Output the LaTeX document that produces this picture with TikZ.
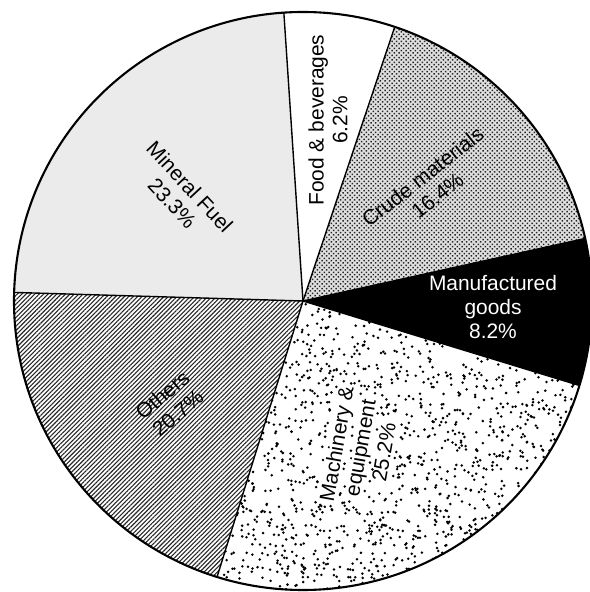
\documentclass[tikz,border=0pt]{standalone}
\usepackage{fontspec}
\setmainfont{Liberation Sans}
\usetikzlibrary{patterns.meta}
\begin{document}
\begin{tikzpicture}[x=1bp,y=1bp,
  lbl/.style={font=\fontsize{21}{24}\selectfont, align=center, inner sep=0pt},
  radial/.style={line width=1.4bp, line cap=round},
  rim/.style={line width=2.1bp}]
\useasboundingbox (0,0) rectangle (590,592);
\fill[white] (0,0) rectangle (590,592);
\coordinate (O) at (303,291);
\def\R{289}
% Food & beverages (white)
\fill[white] (O) -- ++(71.5:\R) arc[start angle=71.5, end angle=93.8, radius=\R] -- cycle;
% Crude materials (dot screen)
\fill[black!12] (O) -- ++(12.5:\R) arc[start angle=12.5, end angle=71.5, radius=\R] -- cycle;
\fill[pattern={Dots[distance=3.3bp, radius=1.05bp, angle=45]}, pattern color=black!85]
  (O) -- ++(12.5:\R) arc[start angle=12.5, end angle=71.5, radius=\R] -- cycle;
% Manufactured goods (black)
\fill[black] (O) -- ++(-17:\R) arc[start angle=-17, end angle=12.5, radius=\R] -- cycle;
% Machinery & equipment (random stipple, kept clear of the label's letters)
\fill[white] (O) -- ++(-107.3:\R) arc[start angle=-107.3, end angle=-17, radius=\R] -- cycle;
\begin{scope}
  \clip (O) -- ++(-107.3:\R) arc[start angle=-107.3, end angle=-17, radius=\R] -- cycle;
  \pgfmathsetseed{7}
  \foreach \i in {1,...,1150}{
    \pgfmathsetmacro\aa{-107.3+90.3*rnd}
    \pgfmathsetmacro\rr{\R*sqrt(rnd)}
    \pgfmathsetmacro\dx{\rr*cos(\aa)+303-360}
    \pgfmathsetmacro\dy{\rr*sin(\aa)+291-144}
    \pgfmathsetmacro\uu{\dx*cos(80)+\dy*sin(80)}
    \pgfmathsetmacro\vv{-\dx*sin(80)+\dy*cos(80)}
    \pgfmathsetmacro\skipit{(\vv>13)*(\vv<32)*(abs(\uu)<61)+(\vv>-11)*(\vv<8)*(abs(\uu)<52)+(\vv>-35)*(\vv<-16)*(abs(\uu)<33)}
    \ifdim\skipit pt<0.5pt
      \fill (O) ++(\aa:\rr) circle[radius=1.4];
    \fi
  }
\end{scope}
% Others (hatching)
\fill[white] (O) -- ++(178.3:\R) arc[start angle=178.3, end angle=252.7, radius=\R] -- cycle;
\fill[pattern={Lines[angle=45, distance=3.1bp, line width=1.1bp]}, pattern color=black!85]
  (O) -- ++(178.3:\R) arc[start angle=178.3, end angle=252.7, radius=\R] -- cycle;
% Mineral Fuel (light screen)
\fill[black!8] (O) -- ++(93.8:\R) arc[start angle=93.8, end angle=178.3, radius=\R] -- cycle;
% boundaries
\draw[radial] (O) -- ++(93.8:\R);
\draw[radial] (O) -- ++(71.5:\R);
\draw[radial] (O) -- ++(12.5:\R);
\draw[radial] (O) -- ++(-17:\R);
\draw[radial] (O) -- ++(-107.3:\R);
\draw[radial] (O) -- ++(178.3:\R);
\draw[rim] (O) circle[radius=\R];
% labels
\node[lbl, rotate=-47] (mineral) at (181,397) {Mineral Fuel\\23.3\%};
\node[lbl, rotate=90] (food) at (328,472) {Food \& beverages\\6.2\%};
\node[lbl, rotate=38] (crude) at (430,406) {Crude materials\\16.4\%};
\node[lbl, text=white] (manuf) at (493,285) {Manufactured\\goods\\8.2\%};
\node[lbl, rotate=80] (mach) at (360,144) {Machinery \&\\equipment\\25.2\%};
\node[lbl, rotate=40] (others) at (170,188) {Others\\20.7\%};
\end{tikzpicture}
\end{document}
